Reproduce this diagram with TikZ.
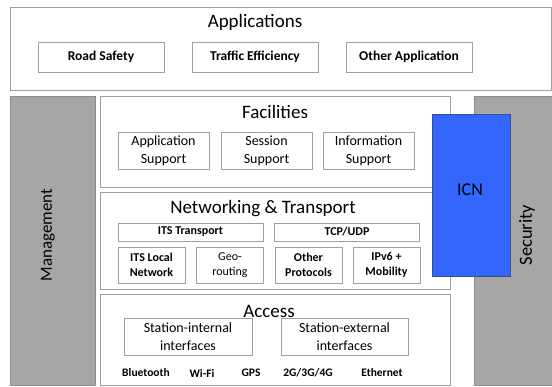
\documentclass[tikz,border=0pt]{standalone}
\usepackage{fontspec}
\setmainfont{Carlito}
\usetikzlibrary{positioning}
\definecolor{edgegray}{HTML}{A0A0A0}
\definecolor{sidegray}{HTML}{A6A6A6}
\definecolor{sideedge}{HTML}{8C8C8C}
\definecolor{icnblue}{HTML}{3366FF}
\definecolor{icnedge}{HTML}{34508F}
\tikzset{layer/.style={draw=edgegray, fill=white, inner sep=0pt, line width=0.8pt},
item/.style={draw=edgegray, fill=white, inner sep=0pt, align=center, line width=0.8pt,
  font=\fontsize{14}{18}\selectfont},
appitem/.style={item, minimum width=126pt, minimum height=30pt, font=\fontsize{13.5}{16}\selectfont\bfseries},
facitem/.style={item, minimum width=91pt, minimum height=37pt},
netitem/.style={item, minimum width=67pt, minimum height=36pt, font=\fontsize{12}{15.5}\selectfont\bfseries},
accitem/.style={item, minimum width=127pt, minimum height=37pt},
iface/.style={font=\fontsize{11.5}{12}\selectfont\bfseries, inner sep=0pt},
title/.style={font=\fontsize{19}{20}\selectfont, inner sep=0pt},
side/.style={draw=sideedge, fill=sidegray, inner sep=0pt, line width=0.8pt},
sidetext/.style={font=\fontsize{17}{18}\selectfont, rotate=90, inner sep=0pt}
}

\begin{document}
\begin{tikzpicture}[x=1pt, y=-1pt, node distance=154pt, on grid]
\useasboundingbox (0,0) rectangle (552,386);
% side pillars
\node[side, minimum width=85pt, minimum height=289pt] (mgmt) at (52.5,240.5) {};
\node[sidetext] (mgmtlbl) at (48,235) {Management};
\node[side, minimum width=78pt, minimum height=289pt] (sec) at (513,240.5) {};
\node[sidetext, font=\fontsize{18.5}{20}\selectfont] (seclbl) at (527,235) {Security};
% applications
\node[layer, minimum width=541pt, minimum height=83pt] (apps) at (280.5,48.5) {};
\node[title] (appstitle) at (255,22) {Applications};
\node[appitem] (road) at (101,57) {Road Safety};
\node[appitem] (traffic) [right=of road] {Traffic Efficiency};
\node[appitem] (otherapp) [right=of traffic] {Other Application};
% facilities
\node[layer, minimum width=350pt, minimum height=91pt] (fac) at (275,141.5) {};
\node[title] (factitle) at (275,112) {Facilities};
\node[facitem] (appsup) at (163.5,150.5) {Application\\Support};
\node[facitem] (sessup) [right=103pt of appsup] {Session\\Support};
\node[facitem] (infsup) [right=102pt of sessup] {Information\\Support};
% networking & transport
\node[layer, minimum width=350pt, minimum height=97pt] (net) at (275,240.5) {};
\node[title] (nettitle) at (263,209) {Networking \& Transport};
\node[netitem, minimum width=145pt, minimum height=18pt] (itstrans) at (190.5,232) {ITS Transport};
\node[netitem, minimum width=145pt, minimum height=18pt] (tcpudp) [right=156.5pt of itstrans] {TCP/UDP};
\node[netitem] (itslocal) at (151.5,265) {ITS Local\\Network};
\node[netitem, font=\fontsize{12}{15.5}\selectfont] (geo) [right=78.5pt of itslocal] {Geo-\\routing};
\node[netitem] (otherprot) [right=78.5pt of geo] {Other\\Protocols};
\node[netitem] (ipv6) [right=78pt of otherprot] {IPv6 +\\Mobility};
% access
\node[layer, minimum width=350pt, minimum height=91pt] (acc) at (275,339.5) {};
\node[title] (acctitle) at (269,311) {Access};
\node[accitem, minimum width=128pt] (intern) at (188,336.5) {Station-internal\\interfaces};
\node[accitem] (extern) [right=156.5pt of intern] {Station-external\\interfaces};
\node[iface] (bt) at (146,373) {Bluetooth};
\node[iface] (wifi) at (202,373) {Wi-Fi};
\node[iface] (gps) at (251,373) {GPS};
\node[iface] (cell) at (308,373) {2G/3G/4G};
\node[iface] (eth) at (382,373) {Ethernet};
% ICN
\node[draw=icnedge, fill=icnblue, line width=0.8pt, minimum width=78pt, minimum height=162pt, inner sep=0pt] (icn) at (471,195) {};
\node[font=\fontsize{18}{20}\selectfont, inner sep=0pt] (icnlbl) at (470,190) {ICN};
\end{tikzpicture}
\end{document}
